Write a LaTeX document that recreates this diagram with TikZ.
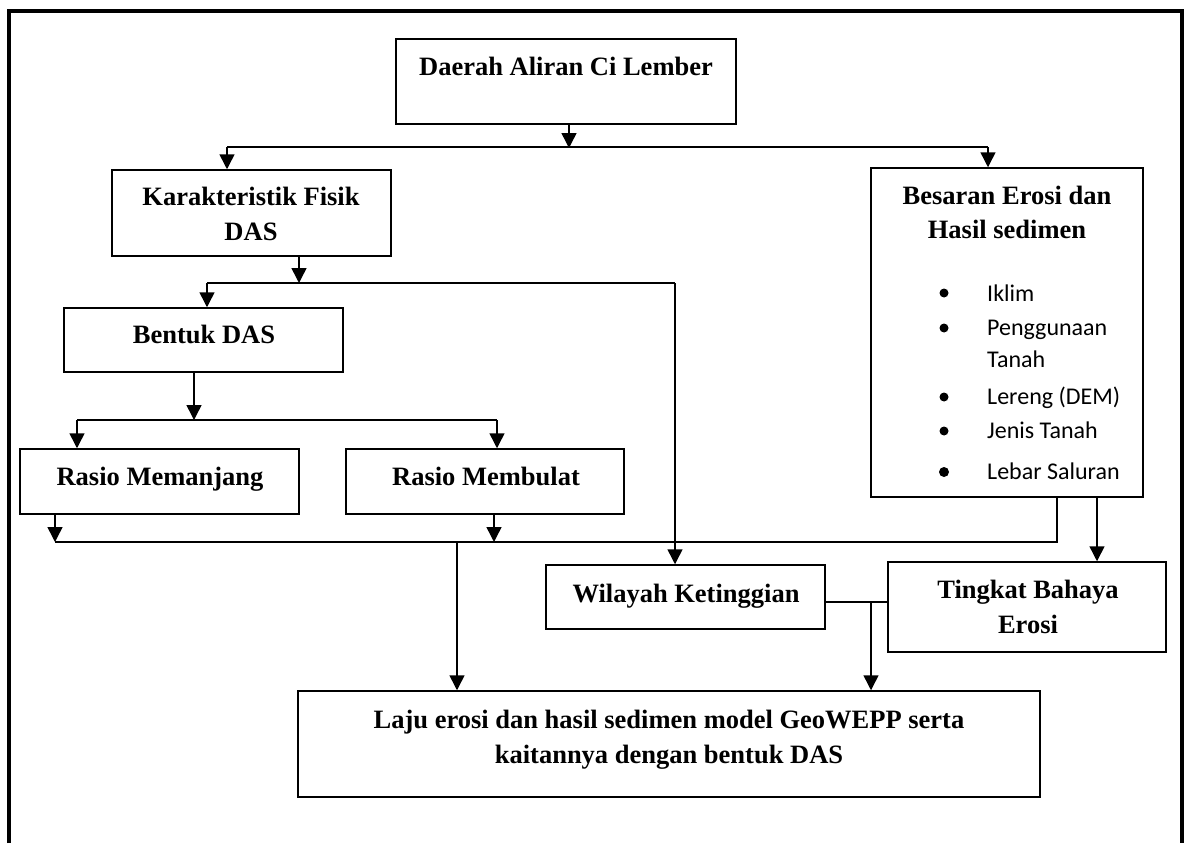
\documentclass[tikz,border=0pt]{standalone}
\usepackage{fontspec}
\setmainfont{Liberation Serif}
\newfontfamily\calfont{Carlito}
\usetikzlibrary{arrows.meta}
\begin{document}
\begin{tikzpicture}[x=1pt,y=-1pt,
  box/.style={draw, line width=1.5pt, inner sep=0pt, rectangle},
  ttl/.style={font=\fontsize{26.5}{32}\selectfont\bfseries, anchor=base, inner sep=0pt},
  item/.style={font=\calfont\fontsize{24}{28}\selectfont, anchor=base west, inner sep=0pt},
  dot/.style={circle, fill, inner sep=0pt, minimum size=9pt},
  conn/.style={line width=1.5pt},
  arr/.style={conn, -{Triangle[width=15pt,length=15pt]}},
]
\fill[white] (0,0) rectangle (1188,843);
\useasboundingbox (0,0) rectangle (1188,843);
% outer frame
\draw[line width=3.5pt] (9,843) -- (9,11) -- (1182,11) -- (1182,843);

% boxes
\node[box, minimum width=340pt, minimum height=85pt] (daerah) at (566,81.5) {};
\node[box, minimum width=279pt, minimum height=86pt] (karak) at (251.5,213) {};
\node[box, minimum width=272pt, minimum height=329pt] (besaran) at (1007,332.5) {};
\node[box, minimum width=279pt, minimum height=64pt] (bentuk) at (203.5,340) {};
\node[box, minimum width=279pt, minimum height=65pt] (memanjang) at (159.5,481.5) {};
\node[box, minimum width=278pt, minimum height=65pt] (membulat) at (485,481.5) {};
\node[box, minimum width=279pt, minimum height=64pt] (wilayah) at (685.5,597) {};
\node[box, minimum width=278pt, minimum height=90pt] (tingkat) at (1027,607) {};
\node[box, minimum width=742pt, minimum height=106pt] (laju) at (669,744) {};

% texts
\node[ttl] (tDaerah) at (566,75) {Daerah Aliran Ci Lember};
\node[ttl] (tKarak1) at (251,205) {Karakteristik Fisik};
\node[ttl] (tKarak2) at (251,240) {DAS};
\node[ttl] (tBes1) at (1007,204) {Besaran Erosi dan};
\node[ttl] (tBes2) at (1007,238) {Hasil sedimen};
\node[ttl] (tBentuk) at (204,343) {Bentuk DAS};
\node[ttl] (tMem) at (160,485) {Rasio Memanjang};
\node[ttl] (tBul) at (486,485) {Rasio Membulat};
\node[ttl] (tWil) at (686,602) {Wilayah Ketinggian};
\node[ttl] (tTing1) at (1028,598) {Tingkat Bahaya};
\node[ttl] (tTing2) at (1028,633) {Erosi};
\node[ttl] (tLaju1) at (669,728) {Laju erosi dan hasil sedimen model GeoWEPP serta};
\node[ttl] (tLaju2) at (669,763) {kaitannya dengan bentuk DAS};

% bullet list
\node[dot] (d1) at (944,293) {}; \node[item] (i1) at (987,301) {Iklim};
\node[dot] (d2) at (944,328) {}; \node[item] (i2) at (987,335) {Penggunaan};
\node[item] (i2b) at (987,367) {Tanah};
\node[dot] (d3) at (944,397) {}; \node[item] (i3) at (987,404) {Lereng (DEM)};
\node[dot] (d4) at (944,431) {}; \node[item] (i4) at (987,438) {Jenis Tanah};
\node[dot, minimum size=10pt] (d5) at (944,472) {}; \node[item] (i5) at (987,479) {Lebar Saluran};

% connectors
\coordinate (j1) at (569,148);
\coordinate (jL) at (227,147);
\coordinate (jR) at (988,147);
\draw[arr] (daerah.south -| j1) -- (j1);
\draw[conn] (jL) -- (jR);
\draw[arr] (jL) -- (karak.north -| jL);
\draw[arr] (jR) -- (besaran.north -| jR);

\coordinate (k1) at (299,283);
\coordinate (kL) at (207,283);
\coordinate (kR) at (675,283);
\draw[arr] (karak.south -| k1) -- (k1);
\draw[conn] (kL) -- (kR);
\draw[arr] (kL) -- (bentuk.north -| kL);
\draw[arr] (kR) -- (wilayah.north -| kR);

\coordinate (b1) at (194,420);
\coordinate (bL) at (77,420);
\coordinate (bR) at (497,420);
\draw[arr] (bentuk.south -| b1) -- (b1);
\draw[conn] (bL) -- (bR);
\draw[arr] (bL) -- (memanjang.north -| bL);
\draw[arr] (bR) -- (membulat.north -| bR);

\coordinate (r1) at (55,542);
\coordinate (r2) at (494,542);
\coordinate (rE) at (1057,542);
\coordinate (rL) at (457,542);
\draw[arr] (memanjang.south -| r1) -- (r1);
\draw[arr] (membulat.south -| r2) -- (r2);
\draw[conn] (r1) -- (rE) -- (besaran.south -| rE);
\draw[arr] (rL) -- (laju.north -| rL);

\coordinate (t1) at (1097,530);
\draw[arr] (besaran.south -| t1) -- (tingkat.north -| t1);

\coordinate (w1) at (871,602);
\draw[conn] (wilayah.east |- w1) -- (tingkat.west |- w1);
\draw[arr] (w1) -- (laju.north -| w1);
\end{tikzpicture}
\end{document}
